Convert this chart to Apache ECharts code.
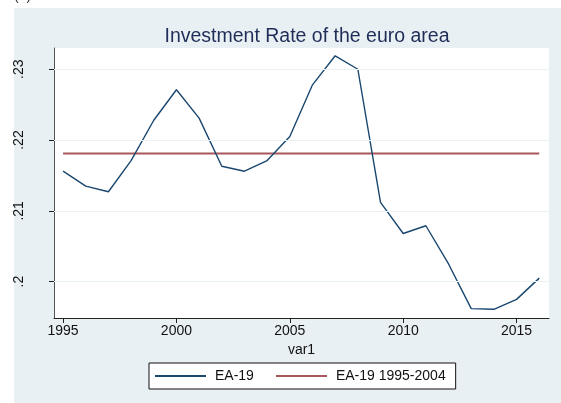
<!DOCTYPE html>
<html>
<head>
<meta charset="utf-8">
<script src="https://cdn.jsdelivr.net/npm/echarts@6/dist/echarts.min.js"></script>
<style>
  html, body { margin: 0; padding: 0; background: #fff; }
  #chart { width: 561px; height: 403px; }
</style>
</head>
<body>
<div id="chart"></div>
<script>
// years on the x axis
const years = [1995, 1996, 1997, 1998, 1999, 2000, 2001, 2002, 2003, 2004, 2005,
  2006, 2007, 2008, 2009, 2010, 2011, 2012, 2013, 2014, 2015, 2016];
// investment rate, EA-19
const ea19 = [0.2156, 0.2135, 0.2127, 0.2171, 0.2228, 0.2271, 0.2231, 0.2163, 0.2156, 0.2171, 0.2205,
  0.2278, 0.2319, 0.2300, 0.2112, 0.2068, 0.2079, 0.2025, 0.1962, 0.1961, 0.1975, 0.2005];
// 1995-2004 average, drawn flat
const ea19Avg = [0.2181, 0.2181, 0.2181, 0.2181, 0.2181, 0.2181, 0.2181, 0.2181, 0.2181, 0.2181, 0.2181,
  0.2181, 0.2181, 0.2181, 0.2181, 0.2181, 0.2181, 0.2181, 0.2181, 0.2181, 0.2181, 0.2181];
const xTicks = [1995, 2000, 2005, 2010, 2015];
const yTicks = [0.20, 0.21, 0.22, 0.23];
const yLabels = { '0.2': '.2', '0.21': '.21', '0.22': '.22', '0.23': '.23' };

const chart = echarts.init(document.getElementById('chart'));
const font = 'Liberation Sans, Arial, sans-serif';

const option = {
  animation: false,
  backgroundColor: '#ffffff',
  textStyle: { fontFamily: font },
  graphic: [
    { type: 'rect', z: -10, silent: true, shape: { x: 14, y: 8, width: 547, height: 395 }, style: { fill: '#e9f0f3' } },
    { type: 'rect', z: -9, silent: true, shape: { x: 54, y: 48, width: 495, height: 270 }, style: { fill: '#ffffff' } },
    { type: 'text', silent: true, left: 14, top: -11, style: { text: '(a)', font: '14px ' + font, fill: '#333' } }
  ],
  title: {
    text: 'Investment Rate of the euro area',
    left: 302, top: 22, textAlign: 'center',
    textStyle: { color: '#1f2d58', fontSize: 19.5, fontWeight: 'normal', fontFamily: font }
  },
  legend: {
    bottom: 14, left: 149,
    itemWidth: 51, itemHeight: 2, itemGap: 22,
    padding: [6, 10, 6, 6],
    borderColor: '#111', borderWidth: 1, borderRadius: 0,
    backgroundColor: '#ffffff',
    icon: 'rect',
    textStyle: { fontSize: 14, color: '#111', fontFamily: font, padding: [0, 0, 0, 4] },
    data: ['EA-19', 'EA-19 1995-2004']
  },
  grid: { left: 54, top: 48, width: 495, height: 270, containLabel: false },
  xAxis: {
    type: 'value',
    min: 1994.6, max: 2016.43,
    name: 'var1', nameLocation: 'middle', nameGap: 22,
    nameTextStyle: { fontSize: 14, color: '#111', fontFamily: font },
    axisLine: { show: true, onZero: false, lineStyle: { color: '#222', width: 1 } },
    axisTick: { show: true, length: 5, lineStyle: { color: '#222' }, customValues: xTicks },
    axisLabel: {
      fontSize: 14, color: '#111', margin: 6, customValues: xTicks,
      formatter: v => String(v)
    },
    splitLine: { show: false }
  },
  yAxis: {
    type: 'value',
    min: 0.19487, max: 0.233,
    axisLine: { show: true, lineStyle: { color: '#555', width: 1 } },
    axisTick: { show: true, length: 5, lineStyle: { color: '#222' }, customValues: yTicks },
    axisLabel: {
      fontSize: 14, color: '#111', rotate: 90, margin: 28, customValues: yTicks,
      formatter: v => yLabels[String(+v.toFixed(2))] || ''
    },
    splitLine: { show: false }
  },
  series: [
    {
      name: 'EA-19', type: 'line', symbol: 'none',
      data: years.map((y, i) => [y, ea19[i]]),
      lineStyle: { color: '#1a476f', width: 1.4 },
      itemStyle: { color: '#1a476f' },
      markLine: {
        silent: true, symbol: 'none', label: { show: false }, animation: false,
        lineStyle: { color: '#eaf2f3', width: 1, type: 'solid' },
        data: yTicks.map(v => ({ yAxis: v }))
      },
      z: 3
    },
    {
      name: 'EA-19 1995-2004', type: 'line', symbol: 'none',
      data: years.map((y, i) => [y, ea19Avg[i]]),
      lineStyle: { color: '#a8585d', width: 2 },
      itemStyle: { color: '#a8585d' },
      z: 2
    }
  ]
};
chart.setOption(option);
</script>
</body>
</html>
